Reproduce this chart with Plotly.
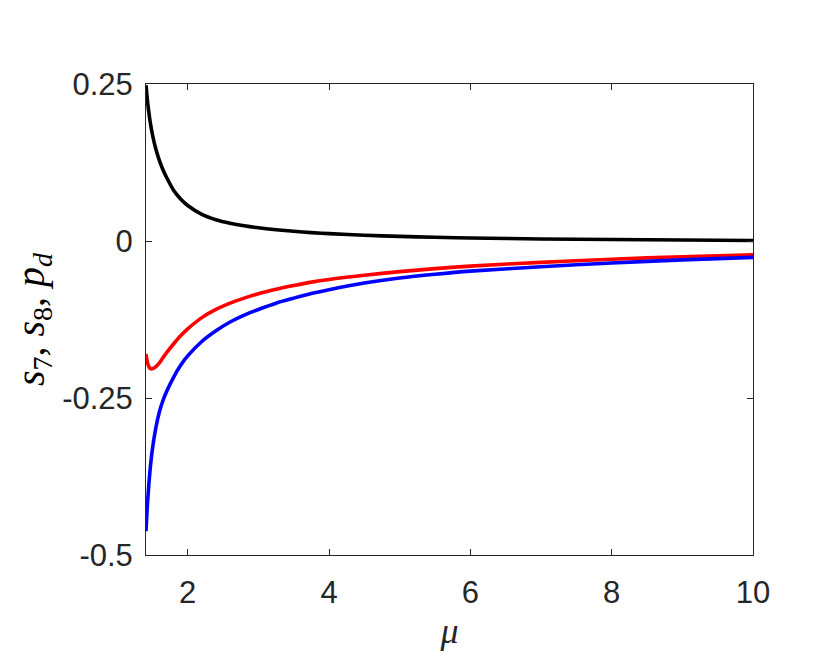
import plotly.graph_objects as go

mu = [1.41, 1.43, 1.45, 1.47, 1.5, 1.55, 1.6, 1.65, 1.7, 1.8, 1.9, 2.0, 2.2, 2.4, 2.6,
      2.8, 3.0, 3.25, 3.5, 3.75, 4.0, 4.5, 5.0, 5.5, 6.0, 7.0, 8.0, 9.0, 10.0]
p_d = [0.248, 0.224, 0.205, 0.189, 0.170, 0.146, 0.128, 0.1135, 0.1015, 0.081, 0.067,
       0.0565, 0.0425, 0.0339, 0.0283, 0.0242, 0.021, 0.0179, 0.0154, 0.0134, 0.0118,
       0.0092, 0.0073, 0.0059, 0.0048, 0.0033, 0.0023, 0.0015, 0.0009]
s_8 = [-0.180, -0.193, -0.200, -0.203, -0.2035, -0.200, -0.194, -0.186, -0.178, -0.164,
       -0.151, -0.140, -0.122, -0.109, -0.099, -0.091, -0.084, -0.077, -0.071, -0.0655,
       -0.0612, -0.0545, -0.0488, -0.044, -0.040, -0.034, -0.029, -0.025, -0.022]
s_7 = [-0.462, -0.420, -0.388, -0.362, -0.332, -0.297, -0.272, -0.254, -0.240, -0.217,
       -0.198, -0.183, -0.160, -0.143, -0.129, -0.118, -0.109, -0.099, -0.091, -0.0835,
       -0.0775, -0.067, -0.059, -0.053, -0.048, -0.041, -0.035, -0.030, -0.026]

x_ticks = [2, 4, 6, 8, 10]
y_ticks = [-0.5, -0.25, 0, 0.25]
y_tick_text = ["-0.5", "-0.25", "0", "0.25"]

fig = go.Figure()
for ys, col in [(p_d, "#000000"), (s_8, "#ff0000"), (s_7, "#0000ff")]:
    fig.add_trace(go.Scatter(x=mu, y=ys, mode="lines",
                             line=dict(color=col, width=3.6, shape="spline", smoothing=0.8),
                             showlegend=False))

axis_common = dict(showline=True, linecolor="#262626", linewidth=1, mirror="ticks",
                   ticks="inside", ticklen=6, tickcolor="#262626", tickwidth=1,
                   showgrid=False, zeroline=False,
                   tickfont=dict(family="Liberation Sans, Arial", size=31, color="#262626"))

fig.update_layout(
    width=822, height=652,
    margin=dict(l=138, r=77, t=76, b=105),
    paper_bgcolor="white", plot_bgcolor="white",
    xaxis=dict(range=[1.41, 10], tickvals=x_ticks, ticktext=[str(v) for v in x_ticks],
               ticklabelstandoff=10,
               title=dict(text="<i>μ</i>", font=dict(family="Liberation Serif, serif", size=36, color="#262626"),
                          standoff=8),
               **axis_common),
    yaxis=dict(range=[-0.5, 0.25], tickvals=y_ticks, ticktext=y_tick_text,
               ticklabelstandoff=6,
               title=dict(text="<i>s</i><sub>7</sub>,&nbsp;<i>s</i><sub>8</sub>,&nbsp;<i>p</i><sub><i>d</i></sub>",
                          font=dict(family="Liberation Serif, serif", size=40, color="#000000"),
                          standoff=10),
               **axis_common),
)

fig.write_html("out.html")
